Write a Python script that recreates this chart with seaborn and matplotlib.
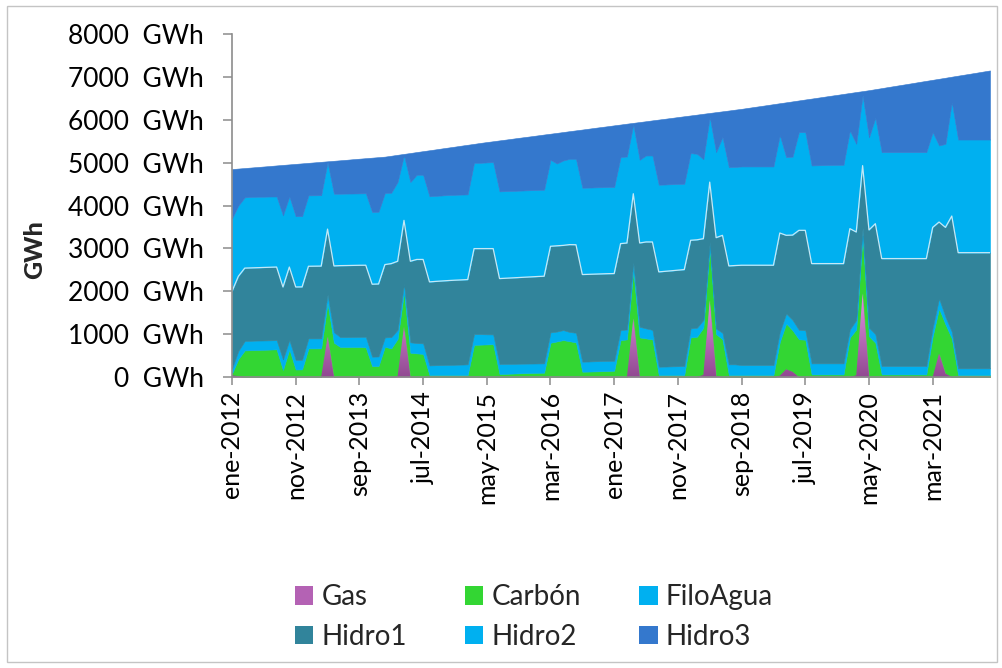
import numpy as np
import pandas as pd
import matplotlib
matplotlib.use("Agg")
import matplotlib.pyplot as plt
from matplotlib.colors import LinearSegmentedColormap
from matplotlib.patches import Rectangle, Patch
import seaborn as sns

# Monthly periods, Jan-2012 .. Dec-2021
meses = ["ene", "feb", "mar", "abr", "may", "jun", "jul", "ago", "sep", "oct", "nov", "dic"]
periodos = [f"{m}-{a}" for a in range(2012, 2022) for m in meses]

series_names = ["Gas", "Carbón", "FiloAgua", "Hidro1", "Hidro2", "Hidro3"]

gas = [40, 20, 0, 0, 0, 0, 0, 0, 0, 0,
       0, 0, 0, 0, 0, 940, 0, 0, 0, 0,
       0, 0, 0, 0, 0, 0, 20, 1170, 0, 0,
       0, 0, 0, 0, 0, 0, 0, 0, 0, 0,
       0, 0, 0, 0, 0, 0, 0, 0, 0, 0,
       0, 0, 0, 0, 0, 0, 0, 0, 0, 0,
       0, 0, 0, 1365, 0, 0, 0, 0, 0, 0,
       0, 0, 0, 0, 50, 1792, 30, 0, 0, 0,
       0, 0, 0, 0, 0, 0, 30, 180, 120, 0,
       0, 0, 0, 0, 0, 0, 0, 0, 40, 1950,
       0, 0, 0, 0, 0, 0, 0, 0, 0, 0,
       0, 550, 80, 0, 0, 0, 0, 0, 0, 0]

carbon = [40, 400, 620, 625, 630, 635, 640, 645, 165, 645,
          175, 178, 667, 667, 668, 780, 800, 700, 700, 700,
          700, 690, 256, 256, 706, 667, 870, 810, 566, 551,
          540, 47, 47, 47, 47, 47, 47, 47, 750, 755,
          760, 765, 70, 75, 80, 85, 90, 94, 98, 101,
          799, 830, 861, 835, 807, 124, 127, 131, 135, 140,
          147, 861, 877, 1125, 923, 900, 877, 47, 47, 47,
          47, 47, 923, 940, 1100, 1241, 970, 880, 47, 47,
          47, 47, 47, 47, 47, 47, 790, 1070, 970, 880,
          870, 60, 60, 60, 60, 60, 60, 920, 1070, 1350,
          950, 800, 60, 60, 60, 60, 60, 60, 60, 60,
          950, 1048, 1150, 900, 47, 47, 47, 47, 47, 47]

filo_agua = [120, 190, 220, 220, 220, 217, 215, 215, 245, 215,
             225, 222, 233, 233, 232, 200, 245, 230, 230, 232,
             235, 249, 217, 224, 217, 263, 210, 190, 244, 239,
             245, 223, 228, 231, 235, 239, 243, 248, 250, 245,
             235, 228, 233, 230, 227, 225, 222, 220, 218, 217,
             241, 230, 233, 215, 225, 233, 235, 236, 237, 236,
             231, 233, 232, 179, 248, 233, 223, 193, 197, 201,
             205, 209, 210, 210, 180, 117, 130, 150, 248, 248,
             232, 232, 232, 232, 232, 232, 230, 230, 240, 220,
             220, 258, 258, 258, 258, 258, 258, 190, 220, 180,
             200, 200, 196, 196, 196, 196, 196, 196, 196, 196,
             200, 233, 174, 155, 155, 155, 155, 155, 155, 155]

hidro1 = [1800, 1740, 1700, 1700, 1700, 1703, 1705, 1705, 1690, 1705,
          1700, 1702, 1683, 1685, 1687, 1530, 1546, 1668, 1670, 1671,
          1671, 1668, 1691, 1690, 1699, 1715, 1600, 1484, 1890, 1952,
          1957, 1949, 1955, 1962, 1968, 1972, 1975, 1978, 1995, 1995,
          2000, 2002, 1993, 1999, 2005, 2010, 2016, 2022, 2028, 2033,
          2009, 2000, 1976, 2038, 2053, 2033, 2033, 2033, 2033, 2034,
          2035, 2017, 2017, 1606, 1955, 2017, 2050, 2212, 2221, 2230,
          2240, 2250, 2056, 2050, 1897, 1396, 2120, 2275, 2296, 2305,
          2328, 2328, 2328, 2328, 2328, 2328, 2309, 1825, 1980, 2321,
          2331, 2327, 2327, 2327, 2327, 2327, 2327, 2350, 2052, 1450,
          2280, 2576, 2506, 2506, 2506, 2506, 2506, 2506, 2506, 2506,
          2340, 1784, 2086, 2700, 2698, 2698, 2698, 2698, 2698, 2698]

hidro2 = [1700, 1650, 1650, 1655, 1655, 1650, 1650, 1645, 1670, 1645,
          1650, 1650, 1653, 1653, 1653, 1560, 1684, 1677, 1678, 1677,
          1676, 1678, 1684, 1685, 1668, 1653, 1850, 1516, 1846, 1975,
          1975, 1996, 1995, 1995, 1995, 1992, 1990, 1986, 2001, 2001,
          2010, 2015, 2033, 2031, 2028, 2026, 2024, 2021, 2018, 2017,
          2017, 1920, 1980, 2001, 2004, 2024, 2023, 2022, 2021, 2020,
          2019, 2017, 2017, 1613, 1940, 2017, 2017, 2032, 2025, 2018,
          2010, 2001, 2032, 2006, 1853, 1513, 1994, 2289, 2304, 2300,
          2304, 2304, 2304, 2304, 2304, 2304, 2281, 1823, 1830, 2289,
          2289, 2289, 2293, 2297, 2300, 2303, 2305, 2289, 2056, 1640,
          2160, 2467, 2482, 2482, 2482, 2482, 2482, 2482, 2482, 2482,
          2220, 1785, 1948, 2653, 2639, 2639, 2639, 2639, 2639, 2639]

hidro3 = [1150, 862, 684, 686, 693, 705, 712, 725, 1177, 749,
          1221, 1231, 759, 769, 779, 21, 768, 780, 789, 800,
          810, 819, 1268, 1273, 850, 863, 633, 34, 679, 530,
          551, 1074, 1085, 1097, 1108, 1124, 1141, 1158, 442, 464,
          475, 489, 1190, 1203, 1218, 1232, 1245, 1259, 1274, 1288,
          609, 714, 664, 645, 664, 1358, 1374, 1390, 1405, 1420,
          1438, 761, 766, 40, 881, 799, 819, 1521, 1534, 1547,
          1561, 1575, 880, 914, 1060, 100, 934, 603, 1321, 1336,
          1344, 1366, 1388, 1409, 1431, 1453, 746, 1279, 1289, 741,
          763, 1560, 1578, 1596, 1615, 1633, 1653, 876, 1209, 98,
          1100, 671, 1494, 1519, 1543, 1567, 1591, 1615, 1640, 1664,
          1222, 1556, 1542, 597, 1490, 1514, 1538, 1562, 1587, 1611]

y_ticks = list(range(0, 8001, 1000))
x_tick_step = 10

colores = ["#b462b4", "#33d633", "#00b0f0", "#31849b", "#00b0f0", "#3478cd"]

df = pd.DataFrame({
    "periodo": periodos,
    "Gas": gas, "Carbón": carbon, "FiloAgua": filo_agua,
    "Hidro1": hidro1, "Hidro2": hidro2, "Hidro3": hidro3,
})
df["idx"] = np.arange(len(df))

sns.set_style("white")
plt.rcParams["font.family"] = ["Lato", "DejaVu Sans"]

fig = plt.figure(figsize=(10.03, 6.68), dpi=100)
ax = fig.add_axes([232 / 1003, 1 - 377 / 668, 758 / 1003, 343 / 668])

polys = ax.stackplot(df["idx"], *[df[c] for c in series_names],
                     colors=colores, labels=series_names,
                     edgecolor="face", linewidth=0.4)

# vertical shading on the gas layer
gas_cmap = LinearSegmentedColormap.from_list("gas_shade", ["#914991", "#e394e3"])
grad = np.linspace(0, 1, 256).reshape(-1, 1)
peak = max(gas)
im = ax.imshow(grad, extent=[0, len(df) - 1, 0, peak], origin="lower",
               aspect="auto", cmap=gas_cmap, zorder=1.5, interpolation="bilinear")
im.set_clip_path(polys[0].get_paths()[0], transform=ax.transData)

# light edge along the top of Hidro1
tope_hidro1 = df[["Gas", "Carbón", "FiloAgua", "Hidro1"]].sum(axis=1)
sns.lineplot(x=df["idx"], y=tope_hidro1, ax=ax, color="#c4e8f6",
             linewidth=0.9, zorder=2, legend=False)

ax.set_xlim(0, len(df) - 1)
ax.set_ylim(0, 8000)
ax.set_xlabel("")
ax.set_ylabel("")

ax.set_yticks(y_ticks)
ax.set_yticklabels([f"{v}  GWh" for v in y_ticks])
xt = list(range(0, len(df), x_tick_step))
ax.set_xticks(xt)
ax.set_xticklabels([periodos[i] for i in xt], rotation=90)

for s in ["top", "right"]:
    ax.spines[s].set_visible(False)
for s in ["left", "bottom"]:
    ax.spines[s].set_color("#8c8c8c")
    ax.spines[s].set_linewidth(1.2)

ax.tick_params(axis="y", direction="out", length=6.5, width=1.1, color="#8c8c8c",
               pad=14, labelsize=19, labelcolor="black", left=True)
ax.tick_params(axis="x", direction="out", length=6, width=1.1, color="#8c8c8c",
               pad=4, labelsize=18, labelcolor="black", bottom=True)

fig.text(35 / 1003, 1 - 250 / 668, "GWh", rotation=90, fontweight="black",
         fontsize=18, ha="center", va="center")

handles = [Patch(facecolor=c, edgecolor="none") for c in colores]
orden = [0, 3, 1, 4, 2, 5]
fig.legend([handles[i] for i in orden], [series_names[i] for i in orden],
           ncol=3, loc="center", bbox_to_anchor=(534 / 1003, 1 - 617 / 668),
           frameon=False, fontsize=20, handlelength=0.65, handleheight=0.65,
           handletextpad=0.3, columnspacing=2.1, labelspacing=0.5, borderpad=0.2)

fig.add_artist(Rectangle((7 / 1003, 6 / 668), 990 / 1003, 656 / 668,
                         transform=fig.transFigure, fill=False,
                         edgecolor="#c4c4c4", linewidth=1.0))

fig.savefig("out.png", dpi=100)
